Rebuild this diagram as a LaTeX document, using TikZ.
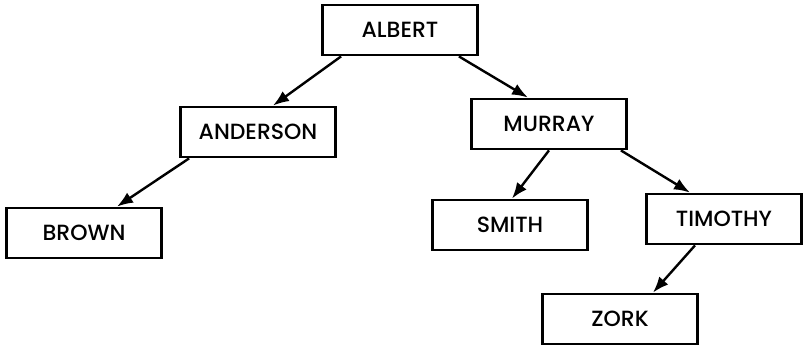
\documentclass[tikz,border=0pt]{standalone}
\usepackage{fontspec}
\setmainfont{Poppins Medium}
\usepackage{tikz}
\usetikzlibrary{
  arrows.meta,
  positioning
}

\begin{document}
\begin{tikzpicture}[
  x=0.5pt,
  y=-0.5pt,
  person/.style={
    draw,
    line width=1.4pt,
    align=center,
    minimum width=77.5pt,
    minimum height=25pt,
    font=\fontsize{11}{13}\selectfont
  },
  arrow/.style={
    -{Latex[length=8pt,width=6pt]},
    line width=1.2pt
  }
]

\useasboundingbox (0,0) rectangle (803,347);

\node[person] (albert) at (400,30) {ALBERT};
\node[person] (anderson) at (258,132) {ANDERSON};
\node[person] (brown) at (84,233) {BROWN};
\node[person] (murray) at (549,124) {MURRAY};
\node[person] (smith) at (510,225) {SMITH};
\node[person] (timothy) at (724,219) {TIMOTHY};
\node[person] (zork) at (620,319) {ZORK};

\draw[arrow] ([xshift=10pt]albert.south west) -- ([xshift=7.5pt]anderson.north);
\draw[arrow] ([xshift=-10pt]albert.south east) -- ([xshift=-10.5pt]murray.north);
\draw[arrow] ([xshift=5pt]anderson.south west) -- ([xshift=16.5pt]brown.north);
\draw[arrow] (murray.south) -- ([xshift=1pt]smith.north);
\draw[arrow] ([xshift=-3.5pt]murray.south east) -- ([xshift=-17pt]timothy.north);
\draw[arrow] ([xshift=-14.5pt]timothy.south) -- ([xshift=16.5pt]zork.north);

\end{tikzpicture}
\end{document}
